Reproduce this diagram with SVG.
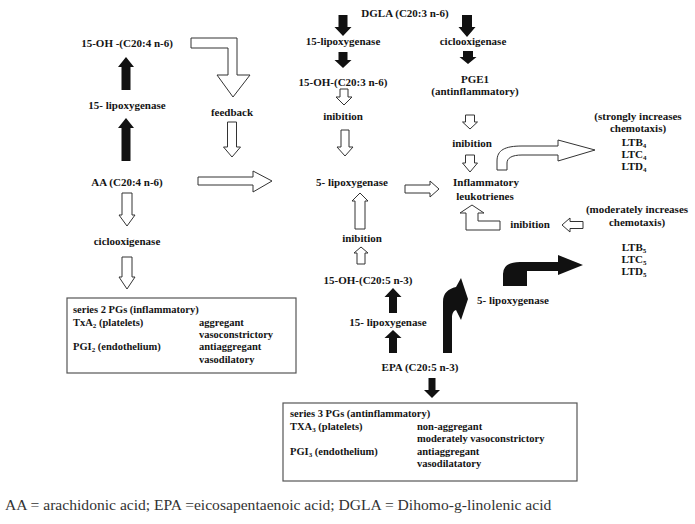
<svg xmlns="http://www.w3.org/2000/svg" width="695" height="524" viewBox="0 0 695 524">
<style>
text{font-family:"Liberation Serif","Times New Roman",serif;font-weight:bold;font-size:11px;fill:#141414}
.c{text-anchor:middle}
.bx text{font-size:10.5px}
.sub{font-size:7px}
.box{fill:none;stroke:#555;stroke-width:1.2}
.h{fill:#fff;stroke:#333;stroke-width:1}
.b{fill:#111;stroke:none}
.cap{font-weight:normal;font-size:15.6px;fill:#333}
</style>
<rect width="695" height="524" fill="#fff"/>
<g id="connectors">
<polygon class="b" points="126,57 134,67 130.5,67 130.5,90 121.5,90 121.5,67 118,67"/>
<polygon class="b" points="126,118 134,128 130.5,128 130.5,161 121.5,161 121.5,128 118,128"/>
<polygon class="h" points="122,193 132,193 132,215 135,215 127,226 119,215 122,215"/>
<polygon class="h" points="122,257 132,257 132,277 135,277 127,289 119,277 122,277"/>
<polygon class="h" points="191,38 237,38 237,75 250,75 233,97 217,75 228,75 228,48 191,48"/>
<polygon class="h" points="227.5,122 236.5,122 236.5,147 240.5,147 232,157 223.5,147 227.5,147"/>
<polygon class="h" points="198,177 253,177 253,171 272,181 253,192 253,185 198,185"/>
<polygon class="b" points="338.5,15 347.5,15 347.5,27 351.5,27 343,36 334.5,27 338.5,27"/>
<polygon class="b" points="462,15 472,15 472,27 475.5,27 467,37 458.5,27 462,27"/>
<polygon class="b" points="338.5,52 347.5,52 347.5,60 351.5,60 343,68 334.5,60 338.5,60"/>
<polygon class="b" points="463,51 473,51 473,57 476.5,57 468,64 459.5,57 463,57"/>
<polygon class="h" points="340,89 348,89 348,97 352,97 344,105 336,97 340,97"/>
<polygon class="h" points="341,130 349,130 349,147 353,147 345,156 337,147 341,147"/>
<polygon class="h" points="360,193 368,201 365,201 365,229 355,229 355,201 352,201"/>
<polygon class="h" points="361,247 368,253 365,253 365,264 357,264 357,253 354,253"/>
<polygon class="h" points="465.5,115 474.5,115 474.5,122 477.5,122 470,129 462.5,122 465.5,122"/>
<polygon class="h" points="465.5,155 474.5,155 474.5,163 477.5,163 470,172 462.5,163 465.5,163"/>
<polygon class="h" points="405,185 430,185 430,181 439,189 430,197 430,193 405,193"/>
<polygon class="h" points="472,205 484,213 478,213 478,221 500,221 500,230 466,230 466,213 460,213"/>
<polygon class="h" points="562,225 570,218 570,221.5 583,221.5 583,228.5 570,228.5 570,232"/>
<path class="h" d="M497,170 L497,161 C497,150 505,146 522,146 L558,146 L558,140 L595,150 L558,161 L558,155 L522,155 C512,155 507,158 507,163 L507,170 Z"/>
<path class="b" d="M503,286 L503,274 Q503,262 520,262 L558,262 L558,255 L583,265 L558,275 L558,271 L527,271 L527,286 Z"/>
<path class="b" d="M443,353 L443,302 C443,293 448,289 456,287 L461,278 L468,299 L461,320 L456,310 C453,311 452,314 452,318 L452,353 Z"/>
<polygon class="b" points="393,288 401.5,297 397,297 397,313 389,313 389,297 384.5,297"/>
<polygon class="b" points="393,330 401.5,338 397,338 397,353 389,353 389,338 384.5,338"/>
<polygon class="b" points="428.5,378 435.5,378 435.5,390 440,390 432,398 424,390 428.5,390"/>
</g>
<g id="n-15oh-aa"><text class="c" x="127" y="47">15-OH -(C20:4 n-6)</text></g>
<g id="n-15lox-aa"><text class="c" x="127" y="109">15- lipoxygenase</text></g>
<g id="n-aa"><text class="c" x="127" y="186">AA (C20:4 n-6)</text></g>
<g id="n-cox-aa"><text class="c" x="127" y="245">ciclooxigenase</text></g>
<g id="n-feedback"><text class="c" x="232" y="116">feedback</text></g>
<g id="n-series2" class="bx">
<rect class="box" x="67" y="298" width="229" height="75"/>
<text x="73" y="313">series 2 PGs (inflammatory)</text>
<text x="73" y="326">TxA<tspan class="sub" dy="2">2</tspan><tspan dy="-2"> (platelets)</tspan></text>
<text x="199" y="326">aggregant</text>
<text x="199" y="338">vasoconstrictory</text>
<text x="73" y="350">PGI<tspan class="sub" dy="2">2</tspan><tspan dy="-2"> (endothelium)</tspan></text>
<text x="199" y="350">antiaggregant</text>
<text x="199" y="363">vasodilatory</text>
</g>
<g id="n-dgla"><text class="c" x="405" y="17">DGLA (C20:3 n-6)</text></g>
<g id="n-15lox-dgla"><text class="c" x="343" y="45">15-lipoxygenase</text></g>
<g id="n-cox-dgla"><text class="c" x="473" y="45">ciclooxigenase</text></g>
<g id="n-15oh-dgla"><text class="c" x="343" y="86">15-OH-(C20:3 n-6)</text></g>
<g id="n-pge1"><text class="c" x="475" y="83">PGE1</text><text class="c" x="475" y="95">(antinflammatory)</text></g>
<g id="n-inib1"><text class="c" x="343" y="120">inibition</text></g>
<g id="n-inib2"><text class="c" x="472" y="147">inibition</text></g>
<g id="n-5lox"><text class="c" x="352" y="186">5- lipoxygenase</text></g>
<g id="n-leuko"><text class="c" x="486" y="186">Inflammatory</text><text class="c" x="485" y="200">leukotrienes</text></g>
<g id="n-strong">
<text class="c" x="638" y="120">(strongly increases</text>
<text class="c" x="638" y="132">chemotaxis)</text>
<text class="c" x="634" y="146">LTB<tspan class="sub" dy="2">4</tspan></text>
<text class="c" x="634" y="158">LTC<tspan class="sub" dy="2">4</tspan></text>
<text class="c" x="634" y="170">LTD<tspan class="sub" dy="2">4</tspan></text>
</g>
<g id="n-inib3"><text class="c" x="530" y="228">inibition</text></g>
<g id="n-moderate"><text class="c" x="637" y="213">(moderately increases</text><text class="c" x="637" y="226">chemotaxis)</text></g>
<g id="n-lt5">
<text class="c" x="634" y="251">LTB<tspan class="sub" dy="2">5</tspan></text>
<text class="c" x="634" y="263">LTC<tspan class="sub" dy="2">5</tspan></text>
<text class="c" x="634" y="275">LTD<tspan class="sub" dy="2">5</tspan></text>
</g>
<g id="n-inib4"><text class="c" x="362" y="242">inibition</text></g>
<g id="n-15oh-epa"><text class="c" x="368" y="284">15-OH-(C20:5 n-3)</text></g>
<g id="n-5lox-epa"><text class="c" x="513" y="304">5- lipoxygenase</text></g>
<g id="n-15lox-epa"><text class="c" x="388" y="326">15- lipoxygenase</text></g>
<g id="n-epa"><text class="c" x="420" y="371">EPA (C20:5 n-3)</text></g>
<g id="n-series3" class="bx">
<rect class="box" x="283" y="403" width="294" height="78"/>
<text x="290" y="417">series 3 PGs (antinflammatory)</text>
<text x="290" y="430">TXA<tspan class="sub" dy="2">3</tspan><tspan dy="-2"> (platelets)</tspan></text>
<text x="417" y="430">non-aggregant</text>
<text x="417" y="442">moderately vasoconstrictory</text>
<text x="290" y="455">PGI<tspan class="sub" dy="2">3</tspan><tspan dy="-2"> (endothelium)</tspan></text>
<text x="417" y="455">antiaggregant</text>
<text x="417" y="467">vasodilatatory</text>
</g>
<g id="caption"><text class="cap" x="5" y="510">AA = arachidonic acid; EPA =eicosapentaenoic acid; DGLA = Dihomo-g-linolenic acid</text></g>
</svg>
